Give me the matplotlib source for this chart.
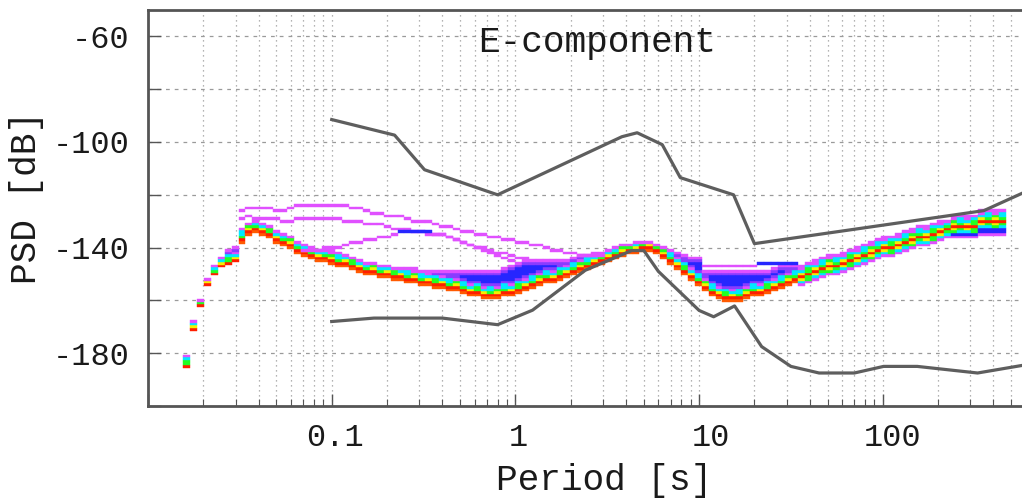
import numpy as np
import matplotlib
matplotlib.use("Agg")
import matplotlib.pyplot as plt
import matplotlib.transforms as mtransforms
from matplotlib.ticker import FixedLocator, LogLocator, NullFormatter

plt.rcParams['font.family'] = ['Liberation Mono', 'DejaVu Sans Mono']
plt.rcParams['axes.unicode_minus'] = False

# ---------------- data ----------------
# Peterson high / low noise models (period [s], dB)
nhnm_period = [0.10, 0.22, 0.32, 0.80, 3.80, 4.60, 6.30, 7.90, 15.40, 20.00, 354.80, 1000.0]
nhnm_db = [-91.5, -97.4, -110.5, -120.0, -98.0, -96.5, -101.0, -113.5, -120.0, -138.5, -126.0, -111.8]
nlnm_period = [0.10, 0.17, 0.40, 0.80, 1.24, 2.40, 4.30, 5.00, 6.00, 10.00, 12.00, 15.60,
               21.90, 31.60, 45.00, 70.00, 101.00, 154.00, 328.00, 600.00, 1000.0]
nlnm_db = [-168.0, -166.7, -166.7, -169.2, -163.7, -148.6, -141.1, -141.1, -149.0, -163.8, -166.2,
           -162.1, -177.5, -185.0, -187.5, -187.5, -185.0, -185.0, -187.5, -184.4, -180.0]

# PSD PDF: 1/8-octave period bins starting at first_bin_period
first_bin_period = 0.01625
# dB of the most probable cell (red) per bin
band_mode = [
    -185, -171, -162, -154, -150, -147, -146, -145, -137, -134,
    -133, -134, -135, -137, -138, -139, -141, -142, -143, -144,
    -144, -145, -146, -146, -147, -148, -149, -149, -150, -150,
    -151, -151, -152, -152, -153, -153, -154, -154, -155, -155,
    -156, -157, -157, -158, -158, -158, -157, -157, -156, -155,
    -154, -153, -152, -152, -151, -150, -149, -148, -147, -146,
    -145, -144, -143, -142, -141, -141, -140, -140, -141, -143,
    -145, -147, -149, -151, -153, -155, -157, -158, -159, -159,
    -159, -158, -157, -157, -156, -155, -154, -153, -152, -151,
    -150, -149, -148, -147, -147, -146, -145, -144, -143, -142,
    -141, -140, -140, -139, -138, -137, -136, -136, -135, -134,
    -133, -132, -132, -132, -132, -130, -130, -130, -130]
# top of the populated band per bin
band_top = [
    -181, -168, -160, -152, -147, -144, -141, -140, -133, -131,
    -130, -131, -132, -134, -135, -136, -138, -139, -140, -141,
    -141, -141, -142, -143, -144, -145, -146, -146, -147, -147,
    -148, -148, -148, -148, -149, -149, -149, -149, -149, -149,
    -149, -149, -149, -149, -149, -149, -148, -147, -146, -145,
    -145, -145, -145, -145, -145, -145, -144, -143, -143, -142,
    -142, -141, -140, -139, -139, -138, -138, -138, -139, -140,
    -141, -142, -143, -144, -144, -149, -149, -149, -149, -149,
    -149, -149, -149, -149, -149, -148, -147, -147, -147, -147,
    -146, -145, -144, -143, -143, -142, -141, -140, -139, -138,
    -137, -136, -136, -135, -134, -133, -132, -132, -131, -130,
    -130, -128, -128, -128, -128, -126, -126, -126, -126]
# bottom of the populated band per bin
band_bottom = [
    -185, -171, -162, -154, -150, -147, -146, -145, -138, -135,
    -134, -135, -136, -138, -139, -140, -142, -143, -144, -145,
    -145, -146, -147, -147, -148, -149, -150, -150, -151, -151,
    -152, -152, -153, -153, -154, -154, -155, -155, -156, -156,
    -157, -158, -158, -159, -159, -159, -158, -158, -157, -156,
    -155, -154, -153, -153, -152, -151, -150, -149, -148, -147,
    -146, -145, -144, -143, -142, -142, -141, -141, -142, -144,
    -146, -148, -150, -152, -154, -156, -158, -159, -160, -160,
    -160, -159, -158, -158, -157, -156, -155, -154, -153, -154,
    -153, -152, -151, -150, -150, -149, -148, -147, -146, -145,
    -144, -143, -143, -142, -141, -140, -139, -139, -138, -137,
    -136, -136, -136, -136, -136, -135, -135, -135, -135]
# bins from which cells under the mode follow the spectrum instead of staying red
spectrum_below_from = 89

# isolated low-probability traces (start bin, dB per bin, bins drawn in blue)
trace1_start = 8
trace1_db = [-126, -125, -125, -125, -125, -126, -126, -125, -124, -124,
             -124, -124, -124, -124, -124, -124, -125, -125, -126, -127,
             -127, -128, -128, -128, -129, -130, -130, -130, -131, -132,
             -132, -133, -134, -134, -135, -135, -136, -136, -137, -137,
             -138, -138, -139, -139, -140, -141, -141, -142, -142, -143,
             -143, -143, -143]
trace1_blue = []
trace2_start = 8
trace2_db = [-129, -128, -129, -129, -129, -129, -130, -130, -129, -129,
             -129, -129, -129, -129, -129, -130, -130, -130, -131, -131,
             -131, -132, -133, -133, -133, -134, -134, -135, -135, -135,
             -136, -137, -138, -139, -140, -140, -141, -142, -142, -143,
             -144, -144]
trace2_blue = []
trace3_start = 17
trace3_db = [-141, -141, -141, -140, -140, -140, -139, -138, -138, -137,
             -137, -136, -136, -135, -134, -134, -134, -134, -134, -135,
             -135, -136, -137, -138, -139, -140, -141, -142, -143, -144,
             -145]
trace3_blue = [31, 32, 33, 34, 35]
trace4_start = 75
trace4_db = [-147, -147, -147, -147, -147, -147, -147, -147, -146, -146, -146, -146, -146, -146]
trace4_blue = [83, 84, 85, 86, 87, 88]

xticks = [0.01, 0.1, 1, 10, 100, 1000]
xtick_labels = ['', '0.1', '1', '10', '100', '']
yticks = [-200, -180, -160, -140, -120, -100, -80, -60]
ytick_labels = ['', '-180', '', '-140', '', '-100', '', '-60']

# ---------------- styling ----------------
RED = '#ff1e00'
ORANGE = '#ff5a00'
YELLOW = '#f5f000'
GREEN = '#22ff22'
CYAN = '#00e8ff'
BLUE = '#2626ff'
VIOLET = '#8a3cff'
MAGENTA = '#e050ff'
GRAY = '#5e5e5e'

W, H = 1022, 499
fig = plt.figure(figsize=(W / 100, H / 100), dpi=100)
ax_left, ax_right, ax_top, ax_bot = 148, 1066.5, 10, 406
ax = fig.add_axes([ax_left / W, 1 - ax_bot / H, (ax_right - ax_left) / W, (ax_bot - ax_top) / H])
ax.set_xscale('log')
ax.set_xlim(0.01, 1000)
ax.set_ylim(-200, -50)

n_bins = len(band_mode)
centers = first_bin_period * 2.0 ** (np.arange(n_bins) / 8.0)
lefts = centers * 2.0 ** (-1 / 16)
rights = centers * 2.0 ** (1 / 16)

cell_x, cell_w, cell_y, cell_c = [], [], [], []


def add_cell(i, v, c):
    cell_x.append(lefts[i])
    cell_w.append(rights[i] - lefts[i])
    cell_y.append(v - 0.5)
    cell_c.append(c)


for i in range(n_bins):
    m, t, b = band_mode[i], band_top[i], band_bottom[i]
    for v in range(b, t + 1):
        d = abs(v - m)
        if d == 0:
            c = RED
        elif v < m and i < spectrum_below_from:
            c = ORANGE if d == 1 else MAGENTA
        elif (v == t and t > m) or (v == b and b < m):
            c = MAGENTA
        elif d == 1:
            c = YELLOW if i % 2 else GREEN
        elif d == 2:
            c = CYAN if i % 3 else GREEN
        elif d == 3 and v < m:
            c = BLUE
        elif d == 3:
            c = MAGENTA if i % 2 else CYAN
        elif d == 4 and i < spectrum_below_from:
            c = VIOLET
        elif v == t - 1:
            c = VIOLET
        else:
            c = BLUE
        add_cell(i, v, c)

for start, vals, blues in [(trace1_start, trace1_db, trace1_blue),
                           (trace2_start, trace2_db, trace2_blue),
                           (trace3_start, trace3_db, trace3_blue),
                           (trace4_start, trace4_db, trace4_blue)]:
    for k, v in enumerate(vals):
        i = start + k
        add_cell(i, v, BLUE if i in blues else MAGENTA)

ax.bar(cell_x, [1.0] * len(cell_x), width=cell_w, bottom=cell_y, align='edge',
       color=cell_c, edgecolor=cell_c, linewidth=0.3, zorder=2)

ax.plot(nhnm_period, nhnm_db, color=GRAY, lw=2.3, zorder=3, solid_joinstyle='round')
ax.plot(nlnm_period, nlnm_db, color=GRAY, lw=2.3, zorder=3, solid_joinstyle='round')

# ticks and grid
ax.xaxis.set_major_locator(FixedLocator(xticks))
ax.set_xticklabels(xtick_labels)
ax.xaxis.set_minor_locator(LogLocator(base=10, subs=np.arange(2, 10)))
ax.xaxis.set_minor_formatter(NullFormatter())
ax.set_yticks(yticks)
ax.set_yticklabels(ytick_labels)
ax.tick_params(axis='both', which='major', direction='in', length=9, width=1, color='#555555',
               labelsize=23, labelcolor='#1a1a1a')
ax.tick_params(axis='x', which='major', pad=12)
ax.tick_params(axis='y', which='major', pad=13)
ax.tick_params(axis='x', which='minor', direction='in', length=5, width=0.8, color='#555555')
ax.grid(True, axis='x', which='both', color='#9a9a9a', linestyle=(0, (1, 3)), linewidth=0.9, zorder=0)
ax.grid(True, axis='y', which='major', color='#9a9a9a', linestyle=(0, (3, 4)), linewidth=0.9, zorder=0)
ax.set_axisbelow(True)
for s in ax.spines.values():
    s.set_color('#555555')
    s.set_linewidth(2)

# small horizontal nudges of the period labels as in the original
label_shift_px = {'0.1': 3, '1': 3, '10': 12, '100': 10}
for lab in ax.get_xticklabels():
    dx = label_shift_px.get(lab.get_text(), 0)
    lab.set_transform(lab.get_transform() + mtransforms.ScaledTranslation(dx / 100, 0, fig.dpi_scale_trans))

fig.text(597 / W, 1 - 42 / H, 'E-component', ha='center', va='center', fontsize=26, color='#1a1a1a')
fig.text(604 / W, 1 - 481 / H, 'Period [s]', ha='center', va='center', fontsize=26, color='#1a1a1a')
fig.text(27 / W, 1 - 197 / H, 'PSD [dB]', ha='center', va='center', rotation=90, fontsize=26,
         color='#1a1a1a')

fig.savefig('out.png', dpi=100)
